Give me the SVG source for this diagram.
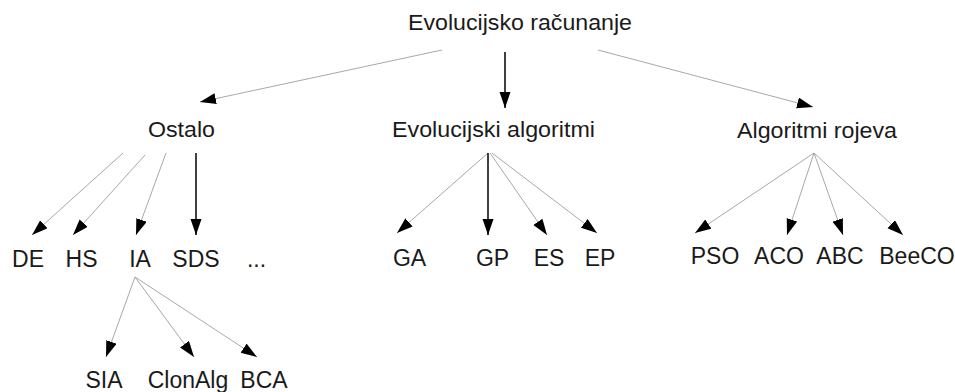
<svg xmlns="http://www.w3.org/2000/svg" width="955" height="392" viewBox="0 0 955 392">
  <style>
    .lbl { font-family: "Liberation Sans", Arial, sans-serif; font-size: 22px; fill: #1a1a1a; text-anchor: middle; }
    .sm { font-size: 23px; }
    .thin { stroke: #a8a8a8; stroke-width: 1; fill: none; marker-end: url(#head); }
    .bold { stroke: #111; stroke-width: 1.6; fill: none; marker-end: url(#head); }
  </style>
  <defs>
    <marker id="head" markerUnits="userSpaceOnUse" markerWidth="17" markerHeight="12" refX="16" refY="5.5" orient="auto">
      <path d="M0,0 L16,5.5 L0,11 z" fill="#000"/>
    </marker>
  </defs>
  <rect width="955" height="392" fill="#fff"/>

  <g id="connectors">
    <!-- root -->
    <line class="thin" x1="442" y1="50" x2="200" y2="102"/>
    <line class="bold" x1="505" y1="52" x2="505" y2="108"/>
    <line class="thin" x1="598" y1="50" x2="813" y2="107"/>
    <!-- Ostalo -->
    <line class="thin" x1="123" y1="153" x2="32" y2="235"/>
    <line class="thin" x1="145" y1="155" x2="73" y2="235"/>
    <line class="thin" x1="166" y1="153" x2="136" y2="235"/>
    <line class="bold" x1="196" y1="153" x2="196" y2="235"/>
    <!-- Evolucijski algoritmi -->
    <line class="thin" x1="488" y1="153" x2="397" y2="233"/>
    <line class="bold" x1="488" y1="153" x2="488" y2="235"/>
    <line class="thin" x1="490" y1="153" x2="547" y2="235"/>
    <line class="thin" x1="492" y1="153" x2="597" y2="233"/>
    <!-- Algoritmi rojeva -->
    <line class="thin" x1="814" y1="153" x2="695" y2="233"/>
    <line class="thin" x1="814" y1="153" x2="787" y2="235"/>
    <line class="thin" x1="814" y1="153" x2="843" y2="235"/>
    <line class="thin" x1="814" y1="153" x2="903" y2="235"/>
    <!-- IA -->
    <line class="thin" x1="135" y1="277" x2="106" y2="357"/>
    <line class="thin" x1="135" y1="277" x2="194" y2="357"/>
    <line class="thin" x1="135" y1="277" x2="257" y2="357"/>
  </g>

  <g id="root"><text class="lbl" x="520" y="30" textLength="224" lengthAdjust="spacingAndGlyphs">Evolucijsko računanje</text></g>
  <g id="ostalo"><text class="lbl" x="181.5" y="137" textLength="67" lengthAdjust="spacingAndGlyphs">Ostalo</text></g>
  <g id="evolucijski-algoritmi"><text class="lbl" x="493.5" y="137" textLength="203" lengthAdjust="spacingAndGlyphs">Evolucijski algoritmi</text></g>
  <g id="algoritmi-rojeva"><text class="lbl" x="817" y="138" textLength="160" lengthAdjust="spacingAndGlyphs">Algoritmi rojeva</text></g>

  <g id="de"><text class="lbl sm" x="28" y="267">DE</text></g>
  <g id="hs"><text class="lbl sm" x="81.5" y="267">HS</text></g>
  <g id="ia"><text class="lbl sm" x="140" y="267">IA</text></g>
  <g id="sds"><text class="lbl sm" x="196" y="267">SDS</text></g>
  <g id="more"><text class="lbl sm" x="256.5" y="267">...</text></g>

  <g id="ga"><text class="lbl sm" x="409.5" y="266">GA</text></g>
  <g id="gp"><text class="lbl sm" x="492.5" y="266">GP</text></g>
  <g id="es"><text class="lbl sm" x="549" y="266">ES</text></g>
  <g id="ep"><text class="lbl sm" x="600" y="266">EP</text></g>

  <g id="pso"><text class="lbl sm" x="715" y="264">PSO</text></g>
  <g id="aco"><text class="lbl sm" x="779" y="264">ACO</text></g>
  <g id="abc"><text class="lbl sm" x="840" y="264">ABC</text></g>
  <g id="beeco"><text class="lbl sm" x="917" y="264">BeeCO</text></g>

  <g id="sia"><text class="lbl sm" x="104" y="388">SIA</text></g>
  <g id="clonalg"><text class="lbl sm" x="188" y="388">ClonAlg</text></g>
  <g id="bca"><text class="lbl sm" x="264" y="388">BCA</text></g>
</svg>
